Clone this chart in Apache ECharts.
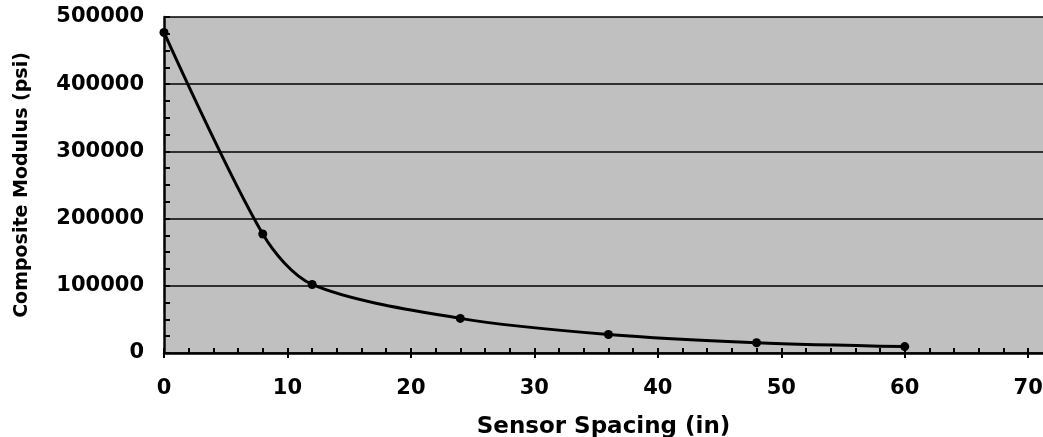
<!DOCTYPE html>
<html>
<head>
<meta charset="utf-8">
<script src="https://cdn.jsdelivr.net/npm/echarts@6/dist/echarts.min.js"></script>
<style>
html,body{margin:0;padding:0;background:#fff;}
#chart{width:1043px;height:437px;}
</style>
</head>
<body>
<div id="chart"></div>
<script>
const spacing = [0, 8, 12, 24, 36, 48, 60];
const modulus = [477000, 177000, 102000, 51500, 27500, 15300, 9500];
const xTicks = [0, 10, 20, 30, 40, 50, 60, 70];
const yTicks = [0, 100000, 200000, 300000, 400000, 500000];
const xTitle = 'Sensor Spacing (in)';
const yTitle = 'Composite Modulus (psi)';

const FONT = 'DejaVu Sans';
const chart = echarts.init(document.getElementById('chart'));
chart.setOption({
  animation: false,
  backgroundColor: '#ffffff',
  grid: {left: 164, top: 17, right: 0, bottom: 84, show: true, backgroundColor: '#c0c0c0', borderWidth: 0, outerBoundsMode: 'none', containLabel: false},
  xAxis: [{
    type: 'value', min: 0, max: 71.2, interval: 10,
    axisLine: {show: true, lineStyle: {color: '#000', width: 2.5}},
    axisTick: {show: true, inside: true, length: 5, lineStyle: {color: '#000', width: 2}, customValues: xTicks},
    minorTick: {show: true, splitNumber: 5, length: 5, lineStyle: {color: '#000', width: 2}},
    axisLabel: {customValues: xTicks, margin: 25, color: '#000', fontFamily: FONT, fontWeight: 'bold', fontSize: 21, formatter: v => String(v)},
    splitLine: {show: false},
    name: xTitle, nameLocation: 'middle', nameGap: 63,
    nameTextStyle: {color: '#000', fontFamily: FONT, fontWeight: 'bold', fontSize: 23}
  }, {
    type: 'value', min: 0, max: 71.2, interval: 10, position: 'bottom',
    axisLine: {show: false},
    axisTick: {show: true, inside: false, length: 5, lineStyle: {color: '#000', width: 2}, customValues: xTicks},
    axisLabel: {show: false},
    splitLine: {show: false}
  }],
  yAxis: {
    type: 'value', min: 0, max: 500000, interval: 100000,
    axisLine: {show: true, lineStyle: {color: '#000', width: 2.5}},
    axisTick: {show: true, inside: true, length: 6, lineStyle: {color: '#000', width: 2}},
    minorTick: {show: true, splitNumber: 4, length: 6, lineStyle: {color: '#000', width: 2}},
    axisLabel: {customValues: yTicks, margin: 20, color: '#000', fontFamily: FONT, fontWeight: 'bold', fontSize: 21, formatter: v => String(v)},
    splitLine: {show: true, lineStyle: {color: '#000', width: 1.5}},
    name: yTitle, nameLocation: 'middle', nameGap: 132, nameRotate: 90,
    nameTextStyle: {color: '#000', fontFamily: FONT, fontWeight: 'bold', fontSize: 19}
  },
  series: [{
    type: 'line', xAxisIndex: 0,
    data: spacing.map((x, i) => [x, modulus[i]]),
    smooth: 0.3,
    symbol: 'circle', symbolSize: 9,
    lineStyle: {color: '#000', width: 3},
    itemStyle: {color: '#000'},
    clip: false
  }]
});
</script>
</body>
</html>
